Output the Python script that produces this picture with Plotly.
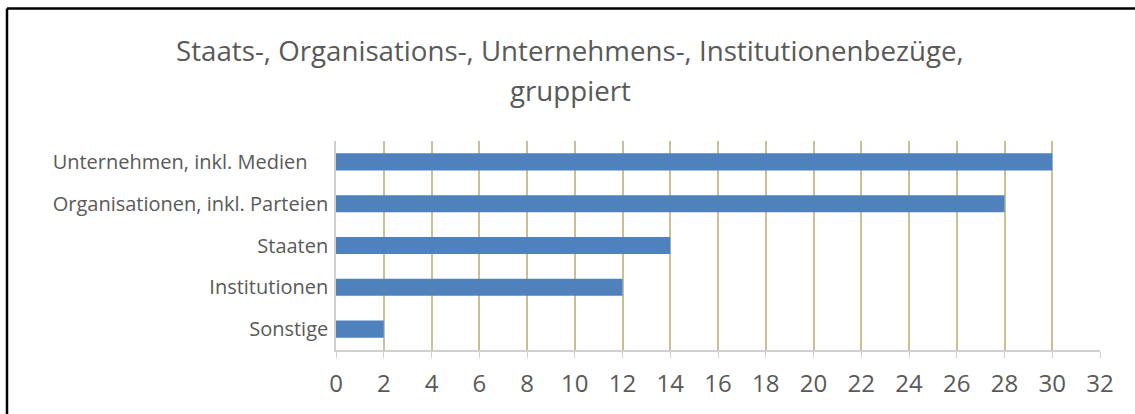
import plotly.graph_objects as go

# --- DATA ---
CATEGORIES = [
    "Sonstige",
    "Institutionen",
    "Staaten",
    "Organisationen, inkl. Parteien",
    "Unternehmen, inkl. Medien\u00a0\u00a0\u00a0\u00a0",
]
COUNTS = [2, 12, 14, 28, 30]
X_TICKS = list(range(0, 33, 2))
TITLE_LINES = ["Staats-, Organisations-, Unternehmens-, Institutionenbezüge,", "gruppiert"]

# --- STYLE ---
FONT = "Open Sans"
BAR_COLOR = "#4F81BD"
GRID_COLOR = "#C9BF97"
AXIS_COLOR = "#D0D0D0"
TEXT_COLOR = "#595959"

W, H = 1135, 414
L, R, T, B = 336, 35, 141, 64
pw, ph = W - L - R, H - T - B


def px_x(px):
    return (px - L) / pw


def px_y(py):
    return (H - B - py) / ph


fig = go.Figure(go.Bar(
    x=COUNTS, y=CATEGORIES, orientation="h",
    marker=dict(color=BAR_COLOR, line=dict(width=0)),
    width=0.41,
))

fig.update_layout(
    width=W, height=H,
    margin=dict(l=L, r=R, t=T, b=B),
    paper_bgcolor="white", plot_bgcolor="white",
    showlegend=False,
    font=dict(family=FONT, color=TEXT_COLOR),
)

# title, one annotation per line (Excel-style wide line spacing)
for line, ypx in zip(TITLE_LINES, [50, 90]):
    fig.add_annotation(
        text=line, showarrow=False, xref="paper", yref="paper",
        x=px_x(570), y=px_y(ypx), xanchor="center", yanchor="middle",
        font=dict(family=FONT, size=27.7, color=TEXT_COLOR),
    )

fig.update_xaxes(
    range=[0, 32], tickvals=X_TICKS, showgrid=True, gridcolor=GRID_COLOR,
    gridwidth=1.5, zeroline=False, showline=True, linecolor=AXIS_COLOR,
    linewidth=1.5, ticks="outside", ticklen=6, tickcolor=AXIS_COLOR,
    ticklabelstandoff=5,
    tickfont=dict(family=FONT, size=24, color=TEXT_COLOR),
)
fig.update_yaxes(
    showgrid=False, showline=True, linecolor=AXIS_COLOR, linewidth=1.5,
    ticks="", ticklabelstandoff=2,
    tickfont=dict(family=FONT, size=20, color=TEXT_COLOR),
)

# outer chart frame (only top and left edges visible in the crop)
fig.add_shape(type="line", xref="paper", yref="paper",
              x0=px_x(7), x1=px_x(W + 5), y0=px_y(8.5), y1=px_y(8.5),
              line=dict(color="black", width=2.5))
fig.add_shape(type="line", xref="paper", yref="paper",
              x0=px_x(7), x1=px_x(7), y0=px_y(8.5), y1=px_y(H + 5),
              line=dict(color="black", width=2.5))

fig.write_html("out.html", config={"displayModeBar": False},
               post_script="document.body.style.margin='0';")
